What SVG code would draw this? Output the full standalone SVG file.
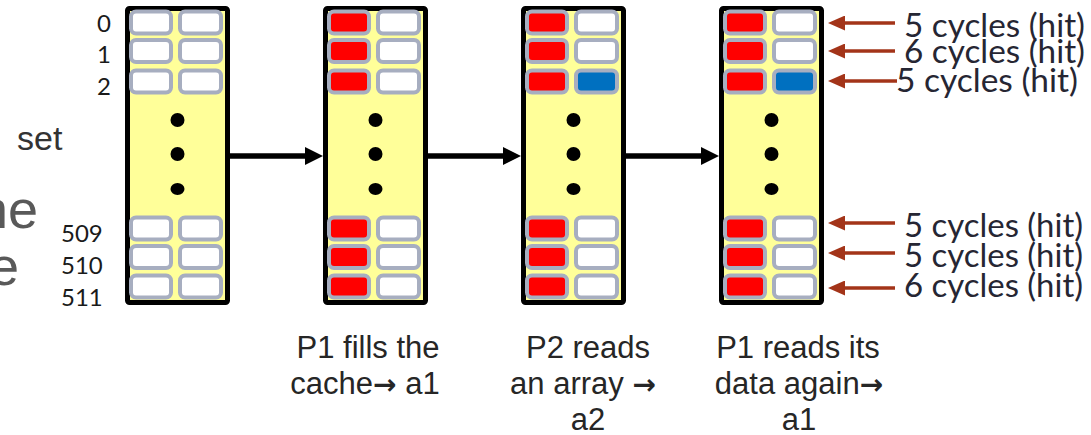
<svg xmlns="http://www.w3.org/2000/svg" width="1091" height="435" viewBox="0 0 1091 435">
<style>
.box{fill:#FFFF99;stroke:#000;stroke-width:5}
.s{stroke:#A7AEC0;stroke-width:4;fill:#fff}
.r{fill:#FF0000}
.b{fill:#0070C0}
.dot{fill:#000}
.idx{font-family:Lato,"Open Sans",sans-serif;font-size:24px;fill:#1a1a1a}
.hit{font-family:Lato,"Open Sans",sans-serif;font-size:33px;fill:#262633}
.cap{font-family:"Liberation Sans",Arial,sans-serif;font-size:31px;fill:#262626;text-anchor:middle}
.arw{font-family:"DejaVu Sans",sans-serif;font-size:28px;font-weight:bold}
.big{font-family:"Liberation Sans",Arial,sans-serif;font-size:54px;fill:#595959}
.blk{stroke:#000;stroke-width:5.5;fill:none}
.red{stroke:#A33419;stroke-width:3.5;fill:none}
</style>
<defs>
<marker id="ah" markerUnits="userSpaceOnUse" markerWidth="18" markerHeight="18" refX="2" refY="9" orient="auto">
<path d="M0,0 L18,9 L0,18 z" fill="#000"/>
</marker>
<marker id="rh" markerUnits="userSpaceOnUse" markerWidth="17" markerHeight="15" refX="2" refY="7.5" orient="auto">
<path d="M0,0 L17,7.5 L0,15 z" fill="#A33419"/>
</marker>
</defs>

<g id="side-text">
<text x="17" y="150" font-family="Liberation Sans,Arial,sans-serif" font-size="34" fill="#333">set</text>
<text class="big" x="-22" y="228">ne</text>
<text class="big" x="-11" y="285">e</text>
</g>

<g id="index-labels">
<text class="idx" x="97" y="32">0</text>
<text class="idx" x="97" y="63">1</text>
<text class="idx" x="97" y="95">2</text>
<text class="idx" x="61" y="242">509</text>
<text class="idx" x="61" y="274">510</text>
<text class="idx" x="61" y="306">511</text>
</g>

<g id="cache-initial">
<rect class="box" x="127.5" y="8.5" width="100" height="294" rx="2"/>
<rect class="s" x="131" y="11.5" width="40" height="22" rx="5"/><rect class="s" x="180" y="11.5" width="41" height="22" rx="5"/>
<rect class="s" x="131" y="40" width="40" height="22" rx="5"/><rect class="s" x="180" y="40" width="41" height="22" rx="5"/>
<rect class="s" x="131" y="70.5" width="40" height="22" rx="5"/><rect class="s" x="180" y="70.5" width="41" height="22" rx="5"/>
<rect class="s" x="131" y="217.5" width="40" height="22" rx="5"/><rect class="s" x="180" y="217.5" width="41" height="22" rx="5"/>
<rect class="s" x="131" y="246" width="40" height="22" rx="5"/><rect class="s" x="180" y="246" width="41" height="22" rx="5"/>
<rect class="s" x="131" y="275.5" width="40" height="22" rx="5"/><rect class="s" x="180" y="275.5" width="41" height="22" rx="5"/>
<circle class="dot" cx="177.5" cy="120" r="7"/><circle class="dot" cx="177.5" cy="154" r="7"/><ellipse class="dot" cx="177.5" cy="189" rx="7" ry="6"/>
</g>

<g id="cache-p1-fill">
<rect class="box" x="325.5" y="8.5" width="100" height="294" rx="2"/>
<rect class="s r" x="329" y="11.5" width="40" height="22" rx="5"/><rect class="s" x="378" y="11.5" width="41" height="22" rx="5"/>
<rect class="s r" x="329" y="40" width="40" height="22" rx="5"/><rect class="s" x="378" y="40" width="41" height="22" rx="5"/>
<rect class="s r" x="329" y="70.5" width="40" height="22" rx="5"/><rect class="s" x="378" y="70.5" width="41" height="22" rx="5"/>
<rect class="s r" x="329" y="217.5" width="40" height="22" rx="5"/><rect class="s" x="378" y="217.5" width="41" height="22" rx="5"/>
<rect class="s r" x="329" y="246" width="40" height="22" rx="5"/><rect class="s" x="378" y="246" width="41" height="22" rx="5"/>
<rect class="s r" x="329" y="275.5" width="40" height="22" rx="5"/><rect class="s" x="378" y="275.5" width="41" height="22" rx="5"/>
<circle class="dot" cx="375.5" cy="120" r="7"/><circle class="dot" cx="375.5" cy="154" r="7"/><ellipse class="dot" cx="375.5" cy="189" rx="7" ry="6"/>
</g>

<g id="cache-p2-read">
<rect class="box" x="523.5" y="8.5" width="100" height="294" rx="2"/>
<rect class="s r" x="527" y="11.5" width="40" height="22" rx="5"/><rect class="s" x="576" y="11.5" width="41" height="22" rx="5"/>
<rect class="s r" x="527" y="40" width="40" height="22" rx="5"/><rect class="s" x="576" y="40" width="41" height="22" rx="5"/>
<rect class="s r" x="527" y="70.5" width="40" height="22" rx="5"/><rect class="s b" x="576" y="70.5" width="41" height="22" rx="5"/>
<rect class="s r" x="527" y="217.5" width="40" height="22" rx="5"/><rect class="s" x="576" y="217.5" width="41" height="22" rx="5"/>
<rect class="s r" x="527" y="246" width="40" height="22" rx="5"/><rect class="s" x="576" y="246" width="41" height="22" rx="5"/>
<rect class="s r" x="527" y="275.5" width="40" height="22" rx="5"/><rect class="s" x="576" y="275.5" width="41" height="22" rx="5"/>
<circle class="dot" cx="573.5" cy="120" r="7"/><circle class="dot" cx="573.5" cy="154" r="7"/><ellipse class="dot" cx="573.5" cy="189" rx="7" ry="6"/>
</g>

<g id="cache-p1-reread">
<rect class="box" x="721.5" y="8.5" width="100" height="294" rx="2"/>
<rect class="s r" x="725" y="11.5" width="40" height="22" rx="5"/><rect class="s" x="774" y="11.5" width="41" height="22" rx="5"/>
<rect class="s r" x="725" y="40" width="40" height="22" rx="5"/><rect class="s" x="774" y="40" width="41" height="22" rx="5"/>
<rect class="s r" x="725" y="70.5" width="40" height="22" rx="5"/><rect class="s b" x="774" y="70.5" width="41" height="22" rx="5"/>
<rect class="s r" x="725" y="217.5" width="40" height="22" rx="5"/><rect class="s" x="774" y="217.5" width="41" height="22" rx="5"/>
<rect class="s r" x="725" y="246" width="40" height="22" rx="5"/><rect class="s" x="774" y="246" width="41" height="22" rx="5"/>
<rect class="s r" x="725" y="275.5" width="40" height="22" rx="5"/><rect class="s" x="774" y="275.5" width="41" height="22" rx="5"/>
<circle class="dot" cx="771.5" cy="120" r="7"/><circle class="dot" cx="771.5" cy="154" r="7"/><ellipse class="dot" cx="771.5" cy="189" rx="7" ry="6"/>
</g>

<g id="connectors">
<line class="blk" x1="230" y1="156" x2="307" y2="156" marker-end="url(#ah)"/>
<line class="blk" x1="428" y1="156" x2="505" y2="156" marker-end="url(#ah)"/>
<line class="blk" x1="626" y1="156" x2="703" y2="156" marker-end="url(#ah)"/>
<line class="red" x1="895" y1="23" x2="843" y2="23" marker-end="url(#rh)"/>
<line class="red" x1="895" y1="51" x2="843" y2="51" marker-end="url(#rh)"/>
<line class="red" x1="897" y1="81" x2="843" y2="81" marker-end="url(#rh)"/>
<line class="red" x1="895" y1="223" x2="843" y2="223" marker-end="url(#rh)"/>
<line class="red" x1="895" y1="253" x2="843" y2="253" marker-end="url(#rh)"/>
<line class="red" x1="895" y1="288" x2="843" y2="288" marker-end="url(#rh)"/>
</g>

<g id="hit-labels">
<text class="hit" x="904" y="37" textLength="181" lengthAdjust="spacingAndGlyphs">5 cycles (hit)</text>
<text class="hit" x="904" y="63" textLength="181" lengthAdjust="spacingAndGlyphs">6 cycles (hit)</text>
<text class="hit" x="896" y="92" textLength="182" lengthAdjust="spacingAndGlyphs">5 cycles (hit)</text>
<text class="hit" x="904" y="237" textLength="179" lengthAdjust="spacingAndGlyphs">5 cycles (hit)</text>
<text class="hit" x="904" y="267" textLength="179" lengthAdjust="spacingAndGlyphs">5 cycles (hit)</text>
<text class="hit" x="904" y="297" textLength="179" lengthAdjust="spacingAndGlyphs">6 cycles (hit)</text>
</g>

<g id="step-captions">
<text class="cap" x="368" y="358">P1 fills the</text>
<text class="cap" x="365" y="394">cache<tspan class="arw">→</tspan> a1</text>
<text class="cap" x="588" y="358">P2 reads</text>
<text class="cap" x="583" y="394">an array <tspan class="arw">→</tspan></text>
<text class="cap" x="588" y="430">a2</text>
<text class="cap" x="798" y="358">P1 reads its</text>
<text class="cap" x="799" y="394">data again<tspan class="arw">→</tspan></text>
<text class="cap" x="799" y="430">a1</text>
</g>
</svg>
